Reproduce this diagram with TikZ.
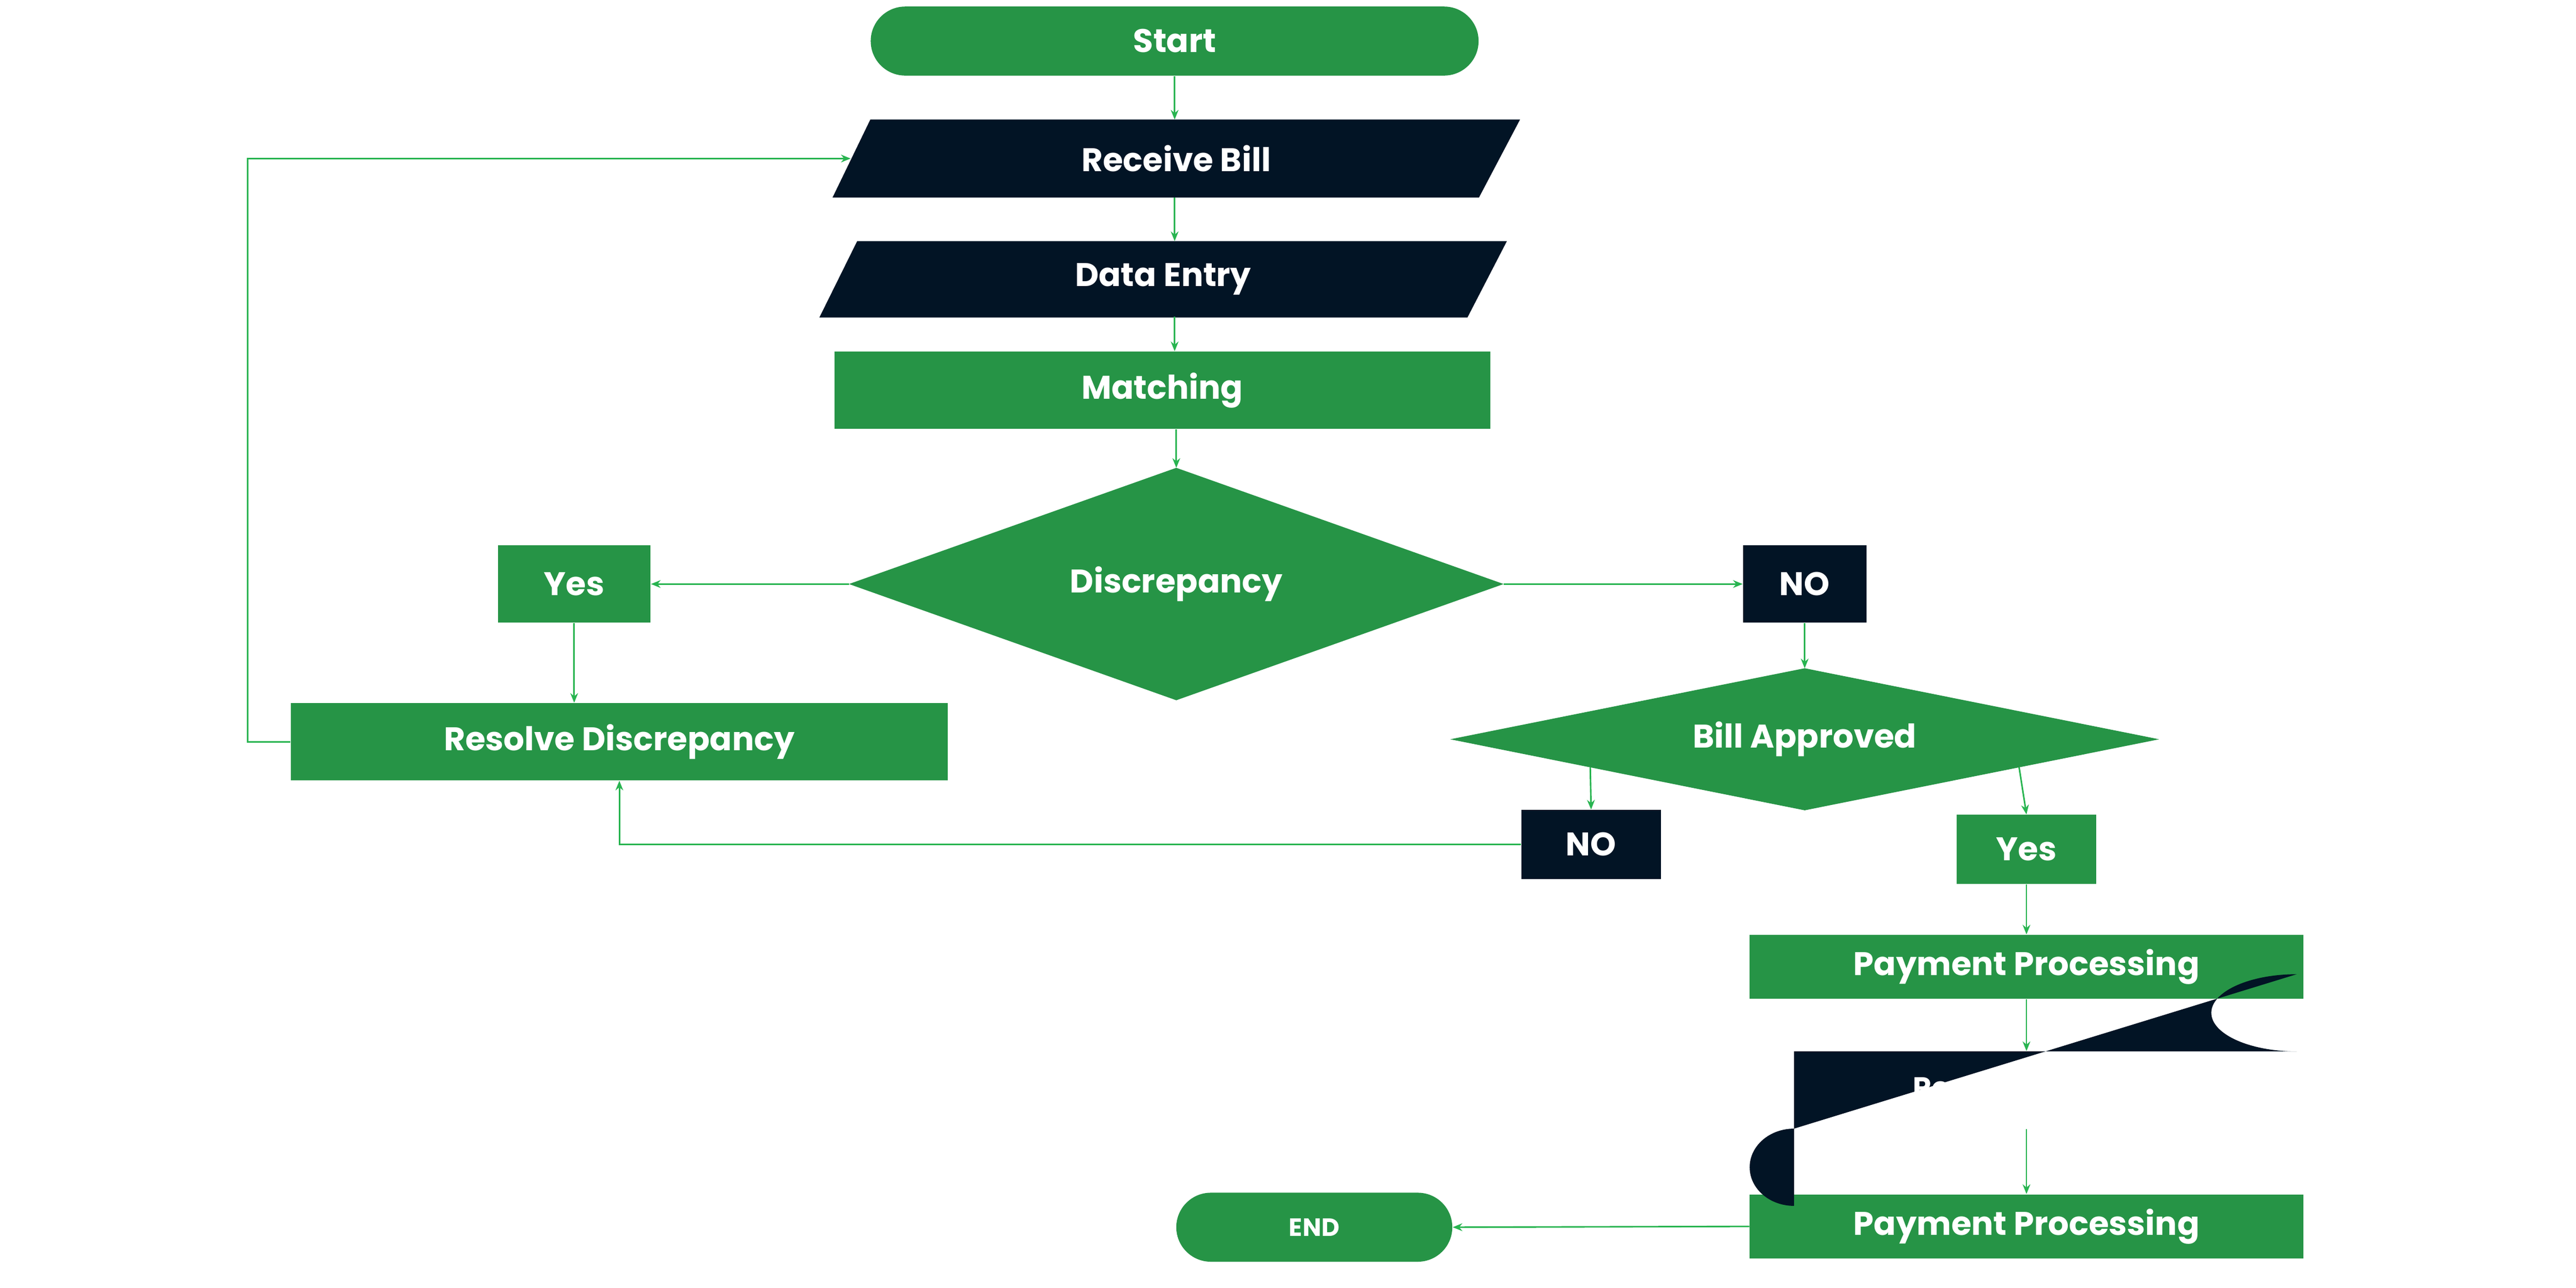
\documentclass[tikz,border=0pt]{standalone}
\usepackage{fontspec}
\setmainfont{Poppins}
\usetikzlibrary{calc,arrows.meta}
\definecolor{gr}{RGB}{38,148,70}
\definecolor{dk}{RGB}{2,20,37}
\definecolor{ln}{RGB}{40,180,80}
\newcommand{\uu}{0.3mm}
\begin{document}
\begin{tikzpicture}[x=0.3mm,y=-0.3mm,
  box/.style={rectangle,inner sep=0pt,text=white,font=\fontsize{17}{20}\selectfont\bfseries},
  arr/.style={draw=ln,line width=0.8pt,-{Stealth[length=5pt,width=4pt]}},
  lnk/.style={draw=ln,line width=0.8pt}]
\useasboundingbox (0,0) rectangle (1568,784);
% nodes
\node[box,fill=gr,rounded corners=21*\uu,minimum width=370*\uu,minimum height=42*\uu] (start) at (715,25) {Start};
\node[box,minimum width=418*\uu,minimum height=47*\uu] (rb) at (716,96.5) {Receive Bill};
\node[box,minimum width=418*\uu,minimum height=46*\uu] (de) at (708,170) {Data Entry};
\node[box,fill=gr,minimum width=399*\uu,minimum height=47*\uu] (mt) at (707.5,237.5) {Matching};
\node[box,minimum width=398*\uu,minimum height=141*\uu] (dc) at (716,355.5) {Discrepancy};
\node[box,fill=gr,minimum width=93*\uu,minimum height=47*\uu] (y1) at (349.5,355.5) {Yes};
\node[box,fill=dk,minimum width=75*\uu,minimum height=47*\uu] (n1) at (1098.5,355.5) {NO};
\node[box,fill=gr,minimum width=400*\uu,minimum height=47*\uu] (rd) at (377,451.5) {Resolve Discrepancy};
\node[box,minimum width=431*\uu,minimum height=86*\uu] (ba) at (1098.5,450) {Bill Approved};
\node[box,fill=dk,minimum width=85*\uu,minimum height=42*\uu] (n2) at (968.5,514) {NO};
\node[box,fill=gr,minimum width=85*\uu,minimum height=42*\uu] (y2) at (1233.5,517) {Yes};
\node[box,fill=gr,minimum width=337*\uu,minimum height=39*\uu] (pp) at (1233.5,588.5) {Payment Processing};
\node[box,minimum width=333*\uu,minimum height=47*\uu,font=\fontsize{15}{18}\selectfont\bfseries] (rk) at (1233,663.5) {Recordkeeping};
\node[box,fill=gr,minimum width=337*\uu,minimum height=39*\uu] (pp2) at (1233.5,746.5) {Payment Processing};
\node[box,fill=gr,rounded corners=21*\uu,minimum width=168*\uu,minimum height=42*\uu,font=\fontsize{13}{16}\selectfont\bfseries] (end) at (800,747) {END};
% shapes behind text
\begin{scope}[on background layer/.try]
\end{scope}
\fill[dk] ($(rb.north west)+(23,0)$) -- (rb.north east) -- ($(rb.south east)+(-25,0)$) -- (rb.south west) -- cycle;
\fill[dk] ($(de.north west)+(23,0)$) -- (de.north east) -- ($(de.south east)+(-24,0)$) -- (de.south west) -- cycle;
\fill[gr] (dc.north) -- (dc.east) -- (dc.south) -- (dc.west) -- cycle;
\fill[gr] (ba.north) -- (ba.east) -- (ba.south) -- (ba.west) -- cycle;
\fill[dk] (1092,640) -- (1398,640) arc[start angle=90,end angle=270,x radius=52,y radius=23.5] -- (1092,687) arc[start angle=270,end angle=90,x radius=27,y radius=23.5] -- cycle;
% redraw text on top
\node[box] at (rb) {Receive Bill};
\node[box] at (de) {Data Entry};
\node[box] at (dc) {Discrepancy};
\node[box] at (ba) {Bill Approved};
\node[box,font=\fontsize{15}{18}\selectfont\bfseries] at (rk) {Recordkeeping};
% connectors
\draw[arr] (start.south) -- (rb.north -| start.south);
\draw[arr] (rb.south -| start.south) -- (de.north -| start.south);
\draw[arr] (de.north -| start.south) ++(0,46) -- (mt.north -| start.south);
\draw[arr] (mt.south -| dc.north) -- (dc.north);
\draw[arr] (dc.west) -- (y1.east);
\draw[arr] (dc.east) -- (n1.west);
\draw[arr] (y1.south) -- (y1.south |- rd.north);
\draw[arr] (rd.west) -- ++(-26,0) |- ($(rb.west)+(11,0)$);
\draw[arr] (n1.south) -- (ba.north);
\draw[arr] ($(ba.west)!0.395!(ba.south)$) -- (n2.north);
\draw[arr] ($(ba.east)!0.395!(ba.south)$) -- (y2.north);
\draw[arr] (n2.west) -| (rd.south);
\draw[arr] (y2.south) -- (pp.north -| y2.south);
\draw[arr] (pp.south -| y2.south) -- (rk.north -| y2.south);
\draw[arr] (rk.south -| y2.south) -- (pp2.north -| y2.south);
\draw[arr] (pp2.west) -- (end.east);
\end{tikzpicture}
\end{document}
